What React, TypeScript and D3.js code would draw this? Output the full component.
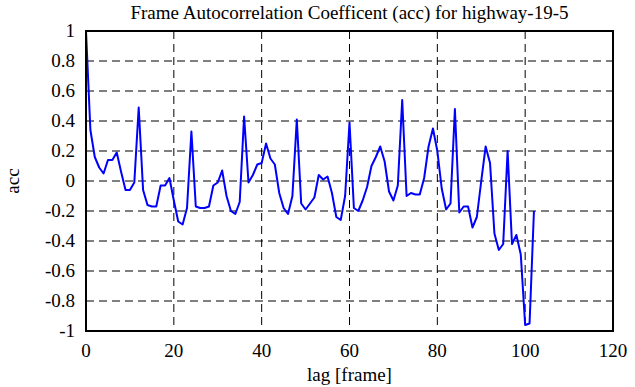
import React from 'react';
import * as d3 from 'd3';

// autocorrelation values, one per lag 0..102
const acc = [
  1.0, 0.34, 0.16, 0.09, 0.05, 0.14, 0.14, 0.19, 0.06, -0.06,
  -0.06, -0.01, 0.49, -0.06, -0.16, -0.17, -0.17, -0.03, -0.03, 0.02,
  -0.13, -0.27, -0.29, -0.18, 0.33, -0.17, -0.18, -0.18, -0.17, -0.03,
  -0.01, 0.07, -0.1, -0.2, -0.22, -0.14, 0.43, -0.01, 0.04, 0.11,
  0.12, 0.25, 0.15, 0.11, -0.08, -0.18, -0.22, -0.1, 0.41, -0.15,
  -0.19, -0.15, -0.11, 0.04, 0.01, 0.03, -0.08, -0.24, -0.26, -0.1,
  0.39, -0.18, -0.2, -0.13, -0.04, 0.1, 0.16, 0.23, 0.13, -0.07,
  -0.13, -0.03, 0.54, -0.1, -0.08, -0.09, -0.09, 0.02, 0.23, 0.35,
  0.2, -0.05, -0.19, -0.15, 0.48, -0.21, -0.17, -0.17, -0.31, -0.24,
  0.0, 0.23, 0.12, -0.35, -0.46, -0.42, 0.2, -0.42, -0.36, -0.49,
  -0.96, -0.95, -0.2,
];
const xTicks = [0, 20, 40, 60, 80, 100, 120];
const yTicks = [1, 0.8, 0.6, 0.4, 0.2, 0, -0.2, -0.4, -0.6, -0.8, -1];

const App = () => {
  const width = 635;
  const height = 387;
  const margin = { top: 31, right: 22, bottom: 56, left: 86 };
  const font = '"Liberation Serif", "DejaVu Serif", serif';
  const fs = 19;

  const xScale = d3.scaleLinear().domain([0, 120]).range([margin.left, width - margin.right]);
  const yScale = d3.scaleLinear().domain([-1, 1]).range([height - margin.bottom, margin.top]);

  const line = d3
    .line<number>()
    .x((d, i) => xScale(i))
    .y(d => yScale(d));

  const x0 = margin.left;
  const x1 = width - margin.right;
  const y0 = height - margin.bottom;
  const y1 = margin.top;

  return (
    <svg
      width={width}
      height={height}
      style={{ position: 'absolute', left: 0, top: 0, background: '#fff' }}
      fontFamily={font}
    >
      <rect x={0} y={0} width={width} height={height} fill='#fff' />
      {xTicks.slice(1, -1).map(t => (
        <line key={`gx-${t}`} x1={xScale(t)} x2={xScale(t)} y1={y1} y2={y0}
          stroke='black' strokeWidth={1} strokeDasharray='8,5' />
      ))}
      {yTicks.slice(1, -1).map(t => (
        <line key={`gy-${t}`} x1={x0} x2={x1} y1={yScale(t)} y2={yScale(t)}
          stroke='black' strokeWidth={1} strokeDasharray='8,5' />
      ))}
      <path d={line(acc) || ''} fill='none' stroke='#0000ff' strokeWidth={2} strokeLinejoin='round' />
      <rect x={x0} y={y1} width={x1 - x0} height={y0 - y1} fill='none' stroke='black' strokeWidth={2} />
      {xTicks.map(t => (
        <text key={`xt-${t}`} x={xScale(t)} y={y0 + 26} textAnchor='middle' fontSize={fs}>{t}</text>
      ))}
      {yTicks.map(t => (
        <text key={`yt-${t}`} x={x0 - 11} y={yScale(t) + 6} textAnchor='end' fontSize={fs}>{t}</text>
      ))}
      <text x={(x0 + x1) / 2} y={19} textAnchor='middle' fontSize={fs}>
        Frame Autocorrelation Coefficent (acc) for highway-19-5
      </text>
      <text x={(x0 + x1) / 2} y={381} textAnchor='middle' fontSize={fs}>lag [frame]</text>
      <text transform={`translate(19, ${(y0 + y1) / 2}) rotate(-90)`} textAnchor='middle' fontSize={fs}>acc</text>
    </svg>
  );
};

export default App;
